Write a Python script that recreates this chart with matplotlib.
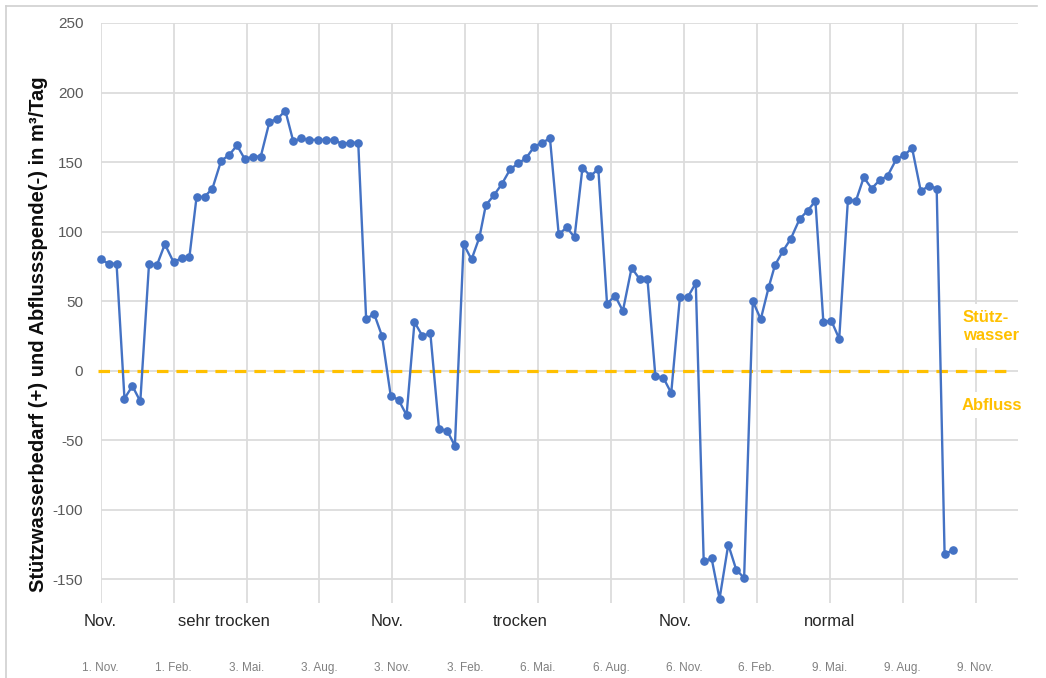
import matplotlib
matplotlib.use("Agg")
import matplotlib.pyplot as plt
import matplotlib.dates as mdates
from matplotlib.lines import Line2D
import datetime as dt

plt.rcParams['font.family'] = ['Liberation Sans', 'DejaVu Sans']

# ---------------- data ----------------
# values every dekad (1st, 11th, 21st of each month) starting 1 Nov 2019
values = [
    80, 77, 77, -20, -11, -22, 77, 76, 91, 78, 81, 82,          # Nov 19 - Feb 20
    125, 125, 131, 151, 155, 162, 152, 154, 154, 179, 181, 187,  # Mar - Jun 20
    165, 167, 166, 166, 166, 166, 163, 164, 164, 37, 41, 25,     # Jul - Oct 20
    -18, -21, -32, 35, 25, 27, -42, -43, -54, 91, 80, 96,        # Nov 20 - Feb 21
    119, 126, 134, 145, 149, 153, 161, 164, 167, 98, 103, 96,    # Mar - Jun 21
    146, 140, 145, 48, 54, 43, 74, 66, 66, -4, -5, -16,          # Jul - Oct 21
    53, 53, 63, -137, -135, -164, -125, -143, -149, 50, 37, 60,  # Nov 21 - Feb 22
    76, 86, 95, 109, 115, 122, 35, 36, 23, 123, 122, 139,        # Mar - Jun 22
    131, 137, 140, 152, 155, 160, 129, 133, 131, -132, -129,     # Jul - Oct 22
]
start_year, start_month = 2019, 11
dekad_days = [1, 11, 21]

tick_dates = ["2019-11-01", "2020-02-01", "2020-05-03", "2020-08-03", "2020-11-03",
              "2021-02-03", "2021-05-06", "2021-08-06", "2021-11-06", "2022-02-06",
              "2022-05-09", "2022-08-09", "2022-11-09"]
tick_labels = ["1. Nov.", "1. Feb.", "3. Mai.", "3. Aug.", "3. Nov.", "3. Feb.",
               "6. Mai.", "6. Aug.", "6. Nov.", "6. Feb.", "9. Mai.", "9. Aug.", "9. Nov."]
period_labels = ["Nov.", "sehr trocken", "Nov.", "trocken", "Nov.", "normal"]
y_ticks = [250, 200, 150, 100, 50, 0, -50, -100, -150]
y_label = "Stützwasserbedarf (+) und Abflussspende(-) in m³/Tag"

# build dekad dates
dates = []
y, m = start_year, start_month
while len(dates) < len(values):
    for d in dekad_days:
        if len(dates) < len(values):
            dates.append(dt.date(y, m, d))
    m += 1
    if m > 12:
        m = 1
        y += 1
xnum = mdates.date2num(dates)
tnum = mdates.date2num([dt.date.fromisoformat(s) for s in tick_dates])
t0 = tnum[0]

# ---------------- figure ----------------
W, H = 1046, 678
fig = plt.figure(figsize=(W / 100, H / 100), dpi=100)

def fx(x):
    return x / W

def fy(y):
    return 1 - y / H

ax_l, ax_r, ax_t, ax_b = 100.7, 1018, 23, 603
ax = fig.add_axes([fx(ax_l), fy(ax_b), fx(ax_r) - fx(ax_l), fy(ax_t) - fy(ax_b)])

px_per_day = (975.5 - 100.7) / (tnum[-1] - t0)
ax.set_xlim(t0, t0 + (ax_r - ax_l) / px_per_day)
ax.set_ylim(-167, 250)

for s in ax.spines.values():
    s.set_visible(False)

ax.set_yticks(y_ticks)
ax.set_yticklabels([str(v) for v in y_ticks], color='#595959', fontsize=11)
ax.tick_params(axis='y', length=0, pad=12.5)
ax.set_xticks(tnum)
ax.set_xticklabels(tick_labels, color='#808080', fontsize=8.5)
ax.tick_params(axis='x', length=0, pad=42.5)

ax.grid(True, color='#dcdcdc', linewidth=1.3, zorder=0)
ax.set_axisbelow(True)

# zero reference (dashed)
x_dash0 = t0 + (98 - ax_l) / px_per_day
x_dash1 = t0 + (1013 - ax_l) / px_per_day
ln, = ax.plot([x_dash0, x_dash1], [0, 0], color='#FFC000', linewidth=2.3,
              zorder=2, clip_on=False)
ln.set_dashes((3.6, 2.5))

# main series
ax.plot(xnum, values, color='#4472C4', linewidth=1.7, marker='o', markersize=5.2,
        markerfacecolor='#4472C4', markeredgecolor='#4472C4', zorder=3, clip_on=False)

# period labels
period_x = [100, 223.5, 387.5, 520, 675, 830]
for px, lab in zip(period_x, period_labels):
    fig.text(fx(px), fy(621), lab, ha='center', va='center', fontsize=12, color='#262626')

# y label
fig.text(fx(39), fy(334), y_label, rotation=90, ha='center', va='center',
         fontsize=14.5, fontweight='bold', color='#0d0d0d')

# annotations
fig.text(fx(963), fy(326), "Stütz-\nwasser", ha='left', va='center', fontsize=12,
         fontweight='bold', color='#FFC000', linespacing=1.25,
         bbox=dict(facecolor='white', edgecolor='none', pad=4))
fig.text(fx(962), fy(405), "Abfluss", ha='left', va='center', fontsize=12,
         fontweight='bold', color='#FFC000',
         bbox=dict(facecolor='white', edgecolor='none', pad=4))

# outer frame (top + left)
fig.add_artist(Line2D([fx(6), fx(1037)], [fy(6), fy(6)], color='#d0d0d0', linewidth=1.2))
fig.add_artist(Line2D([fx(6), fx(6)], [fy(6), fy(680)], color='#d0d0d0', linewidth=1.2))

fig.savefig("out.png", dpi=100)
